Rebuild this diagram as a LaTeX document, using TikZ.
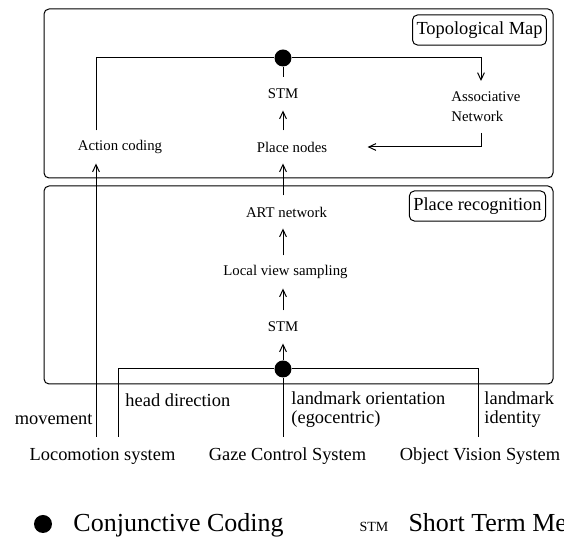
\documentclass[tikz,border=0pt]{standalone}
\usepackage{fontspec}
\setmainfont{Liberation Serif}
\usetikzlibrary{arrows.meta}

\begin{document}
\begin{tikzpicture}[x=0.5pt, y=-0.5pt, line width=0.5pt,
  >={Straight Barb[length=3.6pt,width=3.4pt]},
  panel/.style={rounded corners=2.5pt},
  tag/.style={draw, rounded corners=2.5pt, font=\fontsize{9.2}{11}\selectfont, inner xsep=2pt, minimum height=13pt},
  lbl/.style={font=\fontsize{7.4}{10}\selectfont, inner sep=1pt, minimum height=16pt},
  src/.style={font=\fontsize{9.2}{9.5}\selectfont, inner sep=0pt},
  cc/.style={circle, fill, inner sep=0pt, minimum size=8.5pt},
  legend/.style={font=\fontsize{13}{15}\selectfont, inner sep=0pt, anchor=base west}]
\useasboundingbox (0,0) rectangle (564,539);
% frames
\draw[panel] (44,9) rectangle (553,178);
\draw[panel] (44,186) rectangle (553,384);
\node[tag] (topo) at (479.5,30) {Topological Map};
\node[tag] (placerec) at (477.5,206) {Place recognition};
% topological map
\node[cc] (ccTop) at (283,58) {};
\node[lbl] (stmTop) at (283,94) {STM};
\node[lbl, align=left, minimum height=25.5pt] (assoc) at (486,107) {Associative\\Network};
\node[lbl] (action) at (120,147) {Action coding};
\node[lbl] (place) at (292,147) {Place nodes};
% place recognition
\node[lbl] (art) at (286.5,212) {ART network};
\node[lbl] (view) at (285.5,272) {Local view sampling};
\node[lbl] (stmBot) at (283,327) {STM};
\node[cc] (ccBot) at (283,369) {};
% sources
\node[src] (loco) at (102.5,456) {Locomotion system};
\node[src] (gaze) at (287.5,456) {Gaze Control System};
\node[src] (objv) at (480,456) {Object Vision System};
\coordinate (mvEnd) at (96,437);
\coordinate (hdEnd) at (118,437);
\coordinate (gzEnd) at (283,437);
\coordinate (idEnd) at (478,437);
\node[src, anchor=east] (mvLbl) at (93,419) {movement};
\node[src, anchor=west] (hdLbl) at (125,400) {head direction};
\node[src, anchor=west, align=left] (orLbl) at (291,410) {landmark orientation\\(egocentric)};
\node[src, anchor=west, align=left] (idLbl) at (484,410) {landmark\\identity};
% connectors
\draw (ccTop) -- (stmTop);
\draw[->] (place.north -| stmTop) -- (stmTop);
\draw (action.north -| mvEnd) |- (ccTop.west);
\draw[->] (ccTop.east) -| ([xshift=-2.5pt]assoc.north);
\draw[->, shorten >=19pt] ([xshift=-2.5pt]assoc.south) |- (place.east);
\draw[->] (art.north -| ccTop) -- (place.south -| ccTop);
\draw[->] (view.north -| ccTop) -- (art.south -| ccTop);
\draw[->] (stmBot) -- (view.south -| ccTop);
\draw[->] (ccBot) -- (stmBot);
\draw[->] (mvEnd) -- (mvEnd |- action.south);
\draw (hdEnd) |- (ccBot.west);
\draw (gzEnd) -- (ccBot);
\draw (idEnd) |- (ccBot.east);
% legend
\node[cc, minimum size=9pt] (ccLeg) at (43,524) {};
\node[legend] (ccTxt) at (73,532) {Conjunctive Coding};
\node[legend, font=\fontsize{7}{8}\selectfont] (stmAbbr) at (359,532) {STM};
\node[legend] (stmTxt) at (408,532) {Short Term Memory};
\end{tikzpicture}
\end{document}
